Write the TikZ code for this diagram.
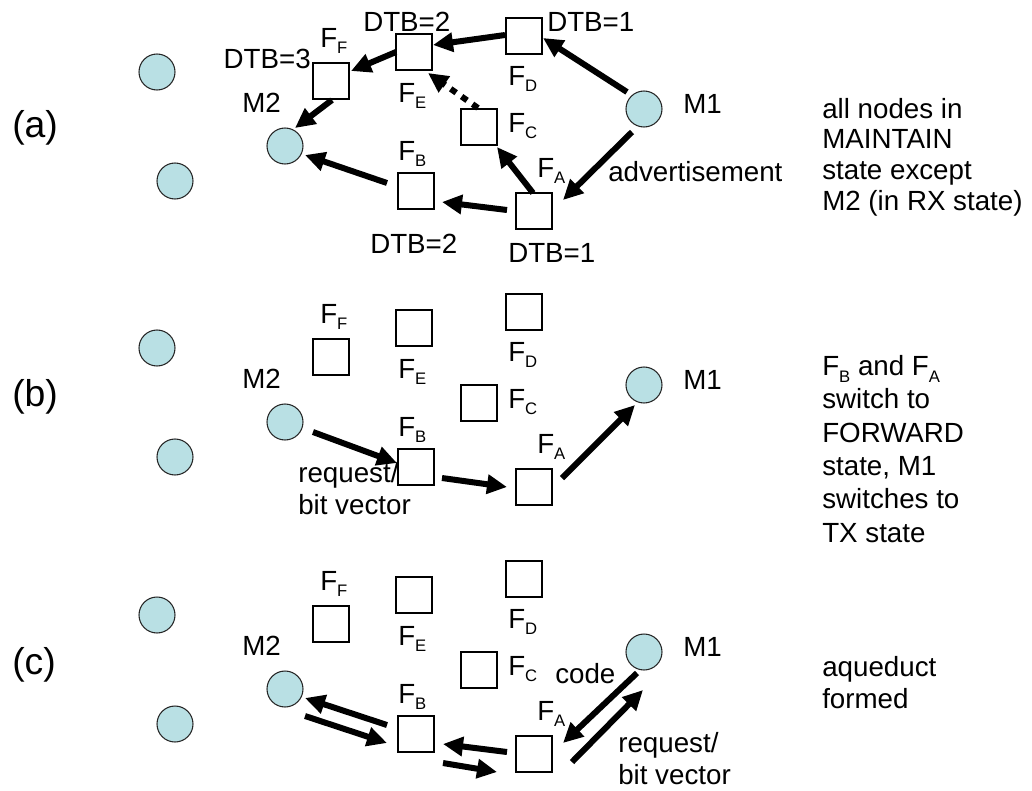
\documentclass[tikz,border=0pt]{standalone}
\usepackage{fontspec}
\setmainfont{Liberation Sans}
\usetikzlibrary{arrows.meta,calc}
\definecolor{motefill}{RGB}{185,224,228}
% forwarder name with a lowered small index
\newcommand\Fs[1]{F\raisebox{-5pt}{\fontsize{12.5pt}{12.5pt}\selectfont #1}}
% the motes and forwarders of one panel; #1 = name prefix, #2 = vertical shift
\newcommand\field[2]{%
  \begin{scope}[shift={(0,#2)}]
    \node[mote] (#1l1) at (157,72) {};
    \node[mote] (#1l2) at (175,181) {};
    \node[mote] (#1m2) at (285,146) {};
    \node[mote] (#1m1) at (644,109) {};
    \node[fwd] (#1ff) at (331,81) {};
    \node[fwd] (#1fe) at (414,52) {};
    \node[fwd] (#1fd) at (524,36) {};
    \node[fwd] (#1fc) at (479,127) {};
    \node[fwd] (#1fb) at (416,191) {};
    \node[fwd] (#1fa) at (534,211) {};
    \node[lbl,anchor=base west] (#1tff) at (320,47) {\Fs{F}};
    \node[lbl,anchor=base west] (#1tfe) at (398,102) {\Fs{E}};
    \node[lbl,anchor=base west] (#1tfd) at (508,85) {\Fs{D}};
    \node[lbl,anchor=base west] (#1tfc) at (508,132) {\Fs{C}};
    \node[lbl,anchor=base west] (#1tfb) at (398,160) {\Fs{B}};
    \node[lbl,anchor=base west] (#1tfa) at (537,177) {\Fs{A}};
    \node[lbl,anchor=base west] (#1tm2) at (242,112) {M2};
    \node[lbl,anchor=base west] (#1tm1) at (683,113) {M1};
  \end{scope}}

\begin{document}
\begin{tikzpicture}[x=0.75pt,y=-0.75pt,
  mote/.style={circle,draw=black!85,line width=0.8pt,fill=motefill,minimum size=27pt,inner sep=0pt},
  fwd/.style={rectangle,draw=black,line width=1.1pt,fill=white,minimum size=27pt,inner sep=0pt},
  lbl/.style={inner sep=0pt,font=\fontsize{20.8pt}{24pt}\selectfont},
  tag/.style={inner sep=0pt,font=\fontsize{28pt}{32pt}\selectfont},
  flow/.style={line width=4.5pt,-{Triangle[length=15pt,width=14pt]}},
  hint/.style={flow,dash pattern=on 5pt off 5pt}]
\useasboundingbox (0,0) rectangle (1032,790);

% ---------- (a) advertisement ----------
\field{a}{0}
\node[tag,anchor=west] (taga) at (12,128) {(a)};
\node[lbl,anchor=base east] (dtb3) at (311,68) {DTB=3};
\node[lbl,anchor=base west] (dtbe) at (363,31) {DTB=2};
\node[lbl,anchor=base west] (dtbd) at (547,31) {DTB=1};
\node[lbl,anchor=base west] (dtbb) at (370,253) {DTB=2};
\node[lbl,anchor=base west] (dtba) at (508,262) {DTB=1};
\node[lbl,anchor=base west] (adv) at (608,181) {advertisement};
% multi-line notes are placed by the baseline of their last line
\node[lbl,align=left,anchor=base west,font=\fontsize{20.8pt}{23pt}\selectfont] (nota) at (822,210)
  {all nodes in\\MAINTAIN\\state except\\M2 (in RX state)};
\draw[flow] ($(am1)+(-17,-17)$) -- ($(afd)+(19,2)$);
\draw[flow] ($(afd)+(-19,-1)$) -- ($(afe)+(19,-7)$);
\draw[flow] ($(afe)+(-18,0)$) -- ($(aff)+(20,-10)$);
\draw[flow] ($(aff)+(1,19)$) -- ($(am2)+(10,-18)$);
\draw[hint] ($(afc)+(-1,-19)$) -- ($(afe)+(14,21)$);
\draw[flow] ($(afa)+(-1,-18)$) -- ($(afc)+(18,20)$);
\draw[flow] ($(am1)+(-12,23)$) -- ($(afa)+(29,-11)$);
\draw[flow] ($(afa)+(-27,-1)$) -- ($(afb)+(26,11)$);
\draw[flow] ($(afb)+(-29,-8)$) -- ($(am2)+(20,9)$);

% ---------- (b) request ----------
\field{b}{276}
\node[tag,anchor=west] (tagb) at (12,397) {(b)};
\node[lbl,align=left,anchor=base west,font=\fontsize{20.8pt}{24pt}\selectfont] (reqb) at (298,514) {request/\\bit vector};
\node[lbl,align=left,anchor=base west,font=\fontsize{20.8pt}{25pt}\selectfont] (notb) at (822,542)
  {\Fs{B} and \Fs{A}\\switch to\\FORWARD\\state, M1\\switches to\\TX state};
\draw[flow] ($(bm2)+(28,10)$) -- ($(bfb)+(-19,-4)$);
\draw[flow] ($(bfb)+(26,11)$) -- ($(bfa)+(-27,0)$);
\draw[flow] ($(bfa)+(28,-9)$) -- ($(bm1)+(-9,20)$);

% ---------- (c) aqueduct ----------
\field{c}{543}
\node[tag,anchor=west] (tagc) at (12,665) {(c)};
\node[lbl,anchor=base west] (code) at (555,683) {code};
\node[lbl,align=left,anchor=base west,font=\fontsize{20.8pt}{24pt}\selectfont] (reqc) at (618,784) {request/\\bit vector};
\node[lbl,align=left,anchor=base west,font=\fontsize{20.8pt}{23.5pt}\selectfont] (notc) at (822,708) {aqueduct\\formed};
\draw[flow] ($(cfb)+(-29,-9)$) -- ($(cm2)+(20,9)$);
\draw[flow] ($(cm2)+(20,27)$) -- ($(cfb)+(-29,9)$);
\draw[flow] ($(cfa)+(-27,-2)$) -- ($(cfb)+(27,10)$);
\draw[flow] ($(cfb)+(27,29)$) -- ($(cfa)+(-37,18)$);
\draw[flow] ($(cm1)+(-7,21)$) -- ($(cfa)+(29,-11)$);
\draw[flow] ($(cfa)+(38,8)$) -- ($(cm1)+(-1,38)$);
\end{tikzpicture}
\end{document}
